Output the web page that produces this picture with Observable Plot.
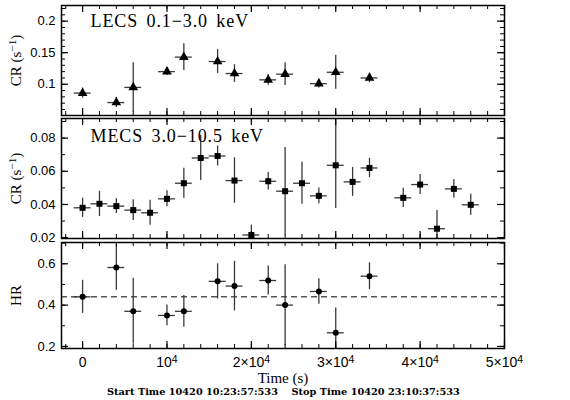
<!DOCTYPE html>
<html><head><meta charset="utf-8">
<script src="https://cdn.jsdelivr.net/npm/d3@7"></script>
<script src="https://cdn.jsdelivr.net/npm/@observablehq/plot@0.6"></script>
<style>
body{margin:0;background:#fff;}
#chart{position:relative;width:570px;height:400px;overflow:hidden;}
#chart .p{position:absolute;left:0;}
#cap{position:absolute;left:107px;top:386px;font:bold 9.75px "DejaVu Serif",serif;white-space:pre;line-height:11px;color:#000;}
</style>
</head><body>
<div id="chart"></div>
<script>
// ---- data ----
const binHalf = 1000;
const lecsTime = [0, 4000, 6000, 10000, 12000, 16000, 18000, 22000, 24000, 28000, 30000, 34000];
const lecsRate = [0.086, 0.071, 0.095, 0.120, 0.143, 0.136, 0.117, 0.107, 0.116, 0.101, 0.119, 0.110];
const lecsErr  = [0.008, 0.008, 0.039, 0.006, 0.021, 0.019, 0.014, 0.0085, 0.018, 0.007, 0.027, 0.0075];

const mecsTime = [0, 2000, 4000, 6000, 8000, 10000, 12000, 14000, 16000, 18000, 20000, 22000, 24000, 26000, 28000, 30000, 32000, 34000, 38000, 40000, 42000, 44000, 46000];
const mecsRate = [0.038, 0.0404, 0.039, 0.0366, 0.035, 0.0434, 0.0528, 0.068, 0.0692, 0.0544, 0.0216, 0.054, 0.048, 0.0528, 0.0452, 0.0636, 0.0536, 0.062, 0.044, 0.052, 0.0254, 0.0494, 0.0398];
const mecsErr  = [0.0058, 0.0076, 0.0045, 0.0063, 0.0075, 0.0048, 0.009, 0.0135, 0.006, 0.0137, 0.006, 0.0053, 0.0264, 0.0126, 0.0048, 0.026, 0.0087, 0.0058, 0.0058, 0.006, 0.011, 0.0057, 0.0063];

const hrTime = [0, 4000, 6000, 10000, 12000, 16000, 18000, 22000, 24000, 28000, 30000, 34000];
const hrVal  = [0.44, 0.582, 0.37, 0.35, 0.37, 0.515, 0.492, 0.519, 0.40, 0.466, 0.266, 0.54];
const hrErr  = [0.08, 0.11, 0.16, 0.05, 0.077, 0.085, 0.12, 0.07, 0.195, 0.062, 0.12, 0.065];
const hrMean = 0.44;

const xMajor = [0, 10000, 20000, 30000, 40000, 50000];
const xMajorLabels = ["0", "10^4", "2\u00d710^4", "3\u00d710^4", "4\u00d710^4", "5\u00d710^4"];
const xMinor = d3.range(-1, 26).map(i => i * 2000);

const lecsYMajor = [0.1, 0.15, 0.2];
const lecsYMinor = d3.range(6, 23).map(i => i / 100);
const mecsYMajor = [0.02, 0.04, 0.06, 0.08];
const mecsYMinor = d3.range(2, 10).map(i => i / 100);
const hrYMajor = [0.2, 0.4, 0.6];
const hrYMinor = d3.range(2, 8).map(i => i / 10);

const lecsTitle = "LECS 0.1\u22123.0 keV";
const mecsTitle = "MECS 3.0\u221210.5 keV";
const crLabel = "CR (s^\u22121)";
const hrLabel = "HR";
const xLabel = "Time (s)";
const caption = "Start Time 10420 10:23:57:533    Stop Time 10420 23:10:37:533";

const rows = (t, v, e) => t.map((d, i) => ({t: d, v: v[i], e: e[i]}));
const lecs = rows(lecsTime, lecsRate, lecsErr);
const mecs = rows(mecsTime, mecsRate, mecsErr);
const hr = rows(hrTime, hrVal, hrErr);

const W = 570, ML = 61, MR = 66;
const serif = "Liberation Serif, Times New Roman, serif";

// turn "a^b" (optionally followed by ")") into real superscript tspans
function superscripts(svg) {
  svg.querySelectorAll("text").forEach(t => {
    const s = t.textContent;
    if (!s.includes("^")) return;
    const m = s.match(/^(.*)\^([^)]*)(\)?)$/);
    if (!m) return;
    t.textContent = "";
    const ns = "http://www.w3.org/2000/svg";
    const a = document.createElementNS(ns, "tspan"); a.textContent = m[1]; t.append(a);
    const b = document.createElementNS(ns, "tspan"); b.textContent = m[2];
    b.setAttribute("dy", "-0.45em"); b.setAttribute("font-size", "0.75em"); t.append(b);
    if (m[3]) { const c = document.createElementNS(ns, "tspan"); c.textContent = m[3]; c.setAttribute("dy", "0.34em"); t.append(c); }
  });
}

function panel({top, height, mt, mb, yDomain, yMajor, yMinor, yLabel, data, symbol, r, title, titleDy, extra = [], bottomAxis = false}) {
  const fw = W - ML - MR, fh = height - mt - mb;
  const errStroke = "#3a3a3a";
  const marks = [
    ...extra,
    Plot.ruleX(data, {x: "t", y1: d => d.v - d.e, y2: d => d.v + d.e, stroke: errStroke, strokeWidth: 1.3, clip: true}),
    Plot.ruleY(data, {y: "v", x1: d => d.t - binHalf, x2: d => d.t + binHalf, stroke: errStroke, strokeWidth: 1.3, clip: true}),
    Plot.dot(data, {x: "t", y: "v", symbol, r, fill: "#000", stroke: "none", clip: true}),
    // inward ticks
    Plot.ruleX(xMinor, {x: d => d, insetTop: fh - 4, stroke: "#000", strokeWidth: 1}),
    Plot.ruleX(xMinor, {x: d => d, insetBottom: fh - 4, stroke: "#000", strokeWidth: 1}),
    Plot.ruleX(xMajor, {x: d => d, insetTop: fh - 7, stroke: "#000", strokeWidth: 1.2}),
    Plot.ruleX(xMajor, {x: d => d, insetBottom: fh - 7, stroke: "#000", strokeWidth: 1.2}),
    Plot.ruleY(yMinor, {y: d => d, insetRight: fw - 4, stroke: "#000", strokeWidth: 1}),
    Plot.ruleY(yMinor, {y: d => d, insetLeft: fw - 4, stroke: "#000", strokeWidth: 1}),
    Plot.ruleY(yMajor, {y: d => d, insetRight: fw - 7, stroke: "#000", strokeWidth: 1.2}),
    Plot.ruleY(yMajor, {y: d => d, insetLeft: fw - 7, stroke: "#000", strokeWidth: 1.2}),
    Plot.frame({stroke: "#000", strokeWidth: 1.5}),
    Plot.axisY(yMajor, {anchor: "left", tickSize: 0, tickPadding: 6, tickFormat: d => String(d), label: null, fontSize: 13}),
    Plot.text([yLabel], {frameAnchor: "left", rotate: -90, dx: -45, textAnchor: "middle", lineAnchor: "middle", fontFamily: serif, fontSize: 15})
  ];
  if (title) marks.push(Plot.text([title], {frameAnchor: "top-left", dx: 29, dy: titleDy, textAnchor: "start", lineAnchor: "middle", fontFamily: serif, fontSize: 18}));
  if (bottomAxis) {
    marks.push(Plot.axisX(xMajor, {anchor: "bottom", tickSize: 0, tickPadding: 9, tickFormat: (d, i) => xMajorLabels[i], label: null, fontSize: 14}));
    marks.push(Plot.text([xLabel], {frameAnchor: "bottom", dy: 30, textAnchor: "middle", lineAnchor: "middle", fontFamily: serif, fontSize: 15}));
  }
  const svg = Plot.plot({
    width: W, height, marginLeft: ML, marginRight: MR, marginTop: mt, marginBottom: mb,
    x: {domain: [-2500, 50000], axis: null},
    y: {domain: yDomain, axis: null},
    style: {fontFamily: "Liberation Sans, Arial, sans-serif", fontSize: "13px", color: "#000", background: "transparent", overflow: "visible"},
    marks
  });
  svg.classList.add("p");
  svg.style.top = top + "px";
  superscripts(svg);
  svg.querySelectorAll("text").forEach(t => {
    if (t.textContent === title) { t.setAttribute("letter-spacing", "0.9"); t.setAttribute("word-spacing", "3"); }
  });
  return svg;
}

const chart = document.getElementById("chart");
chart.append(panel({top: 0, height: 117, mt: 5, mb: 2, yDomain: [0.0505, 0.2248], yMajor: lecsYMajor, yMinor: lecsYMinor,
  yLabel: crLabel, data: lecs, symbol: "triangle", r: 3.6, title: lecsTitle, titleDy: 16}));
chart.append(panel({top: 116, height: 124, mt: 2, mb: 2, yDomain: [0.0195, 0.0918], yMajor: mecsYMajor, yMinor: mecsYMinor,
  yLabel: crLabel, data: mecs, symbol: "square", r: 3.4, title: mecsTitle, titleDy: 18}));
chart.append(panel({top: 239, height: 161, mt: 3, mb: 52, yDomain: [0.19, 0.703], yMajor: hrYMajor, yMinor: hrYMinor,
  yLabel: hrLabel, data: hr, symbol: "circle", r: 3, bottomAxis: true,
  extra: [Plot.ruleY([hrMean], {y: d => d, stroke: "#000", strokeWidth: 1, strokeDasharray: "6,4"})]}));
const cap = document.createElement("div");
cap.id = "cap";
cap.textContent = caption;
chart.append(cap);
</script>
</body></html>
